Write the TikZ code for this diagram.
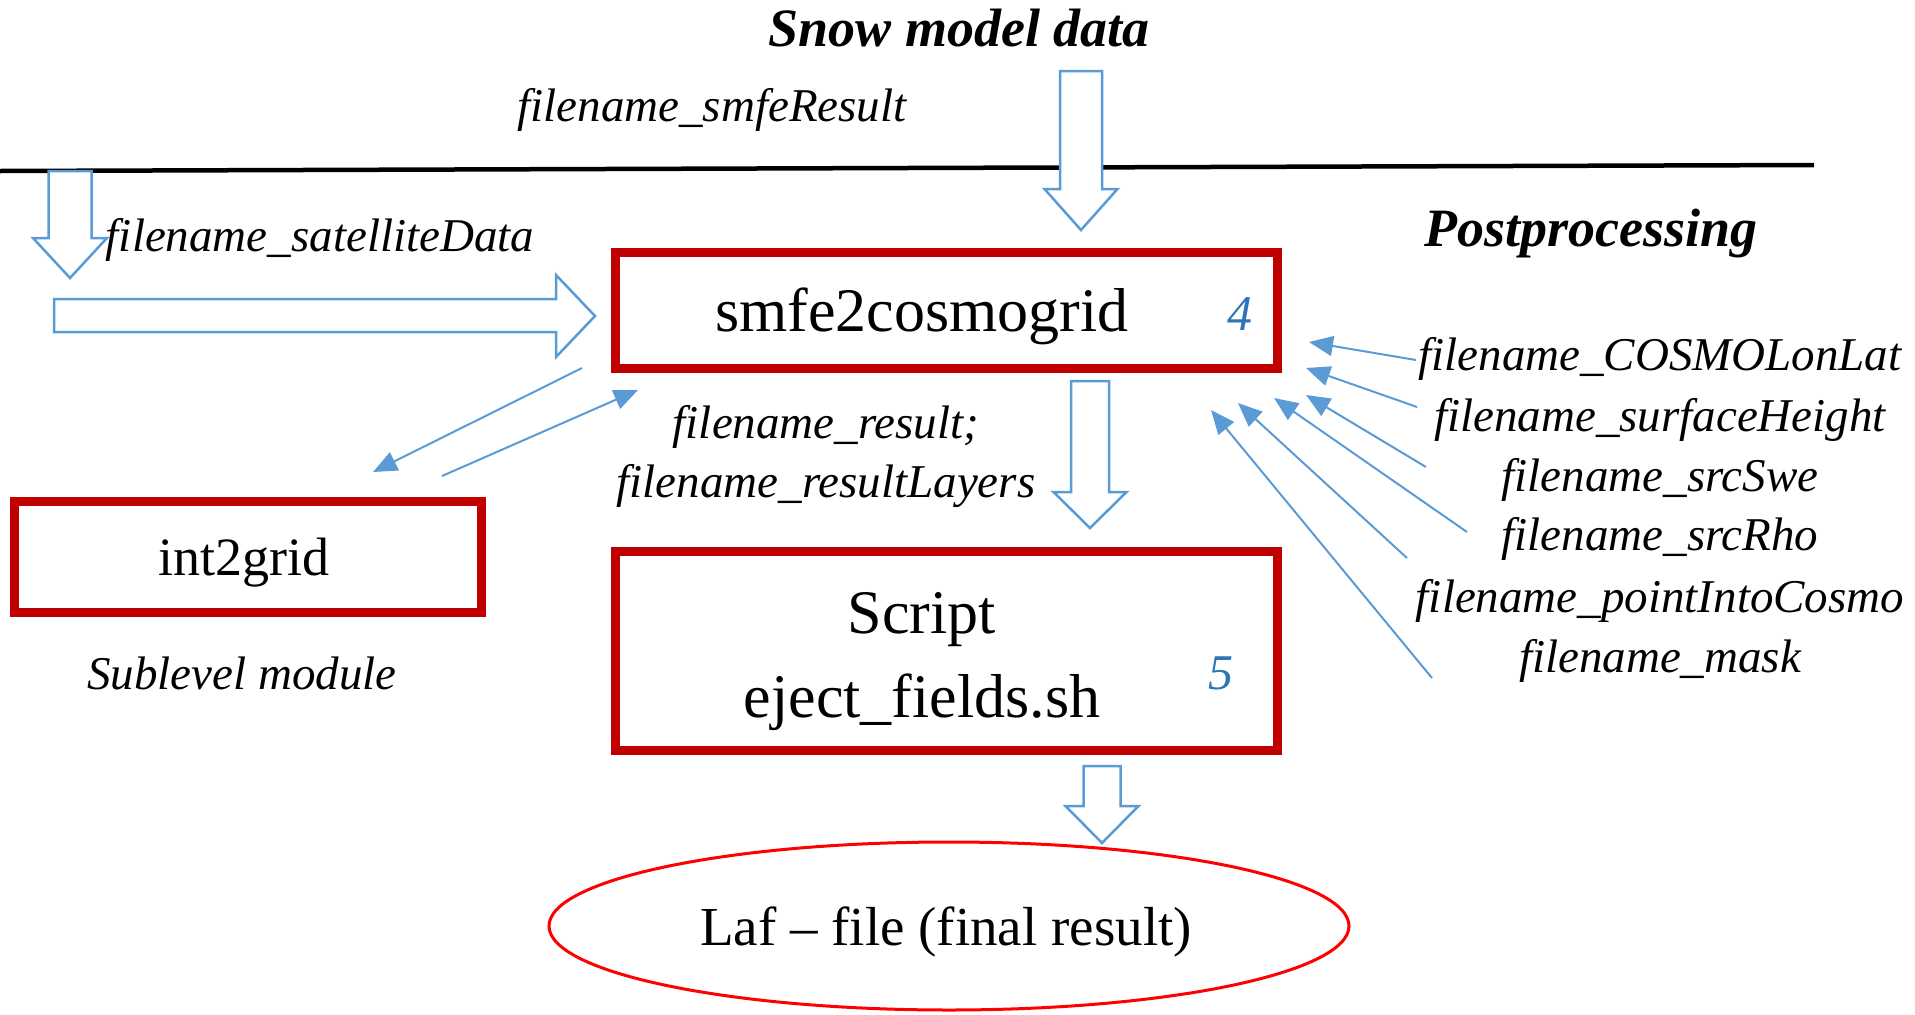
\documentclass[tikz,border=0pt]{standalone}
\usepackage{fontspec}
\setmainfont{Liberation Serif}
\usetikzlibrary{arrows.meta,shapes.geometric}
\definecolor{arblue}{HTML}{5B9BD5}
\definecolor{numblue}{HTML}{2E75B6}
\definecolor{boxred}{HTML}{C00000}
\definecolor{ellred}{HTML}{FF0000}
\newcommand\hdown[6]{% cx, top, shaft width, head base, head width, tip
  \draw[hollow] ({#1-#3/2},#2) -- ({#1+#3/2},#2) -- ({#1+#3/2},#4) -- ({#1+#5/2},#4)
    -- (#1,#6) -- ({#1-#5/2},#4) -- ({#1-#3/2},#4) -- cycle;}
\begin{document}
\begin{tikzpicture}[x=1pt,y=-1pt,
  hollow/.style={draw=arblue,line width=2.5pt,fill=white,line join=miter},
  thin/.style={draw=arblue,line width=2pt,-{Triangle[length=24pt,width=20pt]}},
  redbox/.style={draw=boxred,line width=9pt,inner sep=0pt},
  lab/.style={inner sep=0pt,font=\fontsize{47}{56}\selectfont\itshape},
  title/.style={inner sep=0pt,font=\fontsize{54}{62}\selectfont\bfseries\itshape},
  boxtxt/.style={inner sep=0pt,font=\fontsize{62}{70}\selectfont},
  num/.style={inner sep=0pt,text=numblue,font=\fontsize{50}{58}\selectfont\itshape}]
\useasboundingbox (0,0) rectangle (1915,1015);
% separator line
\coordinate (lineL) at (0,171);
\coordinate (lineR) at (1814,165);
\draw[line width=4.5pt] (lineL) -- (lineR);
% titles
\node[title] (snow) at (959,28) {Snow model data};
\node[title] (post) at (1591,234) {Postprocessing};
% boxes
\draw[redbox] (615.5,252.5) rectangle (1277.5,368.5);
\node[boxtxt] (smfe) at (922,316) {smfe2cosmogrid};
\node[num] (n4) at (1240,314) {4};
\draw[redbox] (14.5,501.5) rectangle (481.5,612.5);
\node[boxtxt,font=\fontsize{54}{62}\selectfont] (int) at (244,563) {int2grid};
\node[lab] (sub) at (242,673) {Sublevel module};
\draw[redbox] (615.5,551.5) rectangle (1277.5,750.5);
\node[boxtxt] (script) at (922,620) {Script};
\node[boxtxt] (eject) at (922,702) {eject\_fields.sh};
\node[num] (n5) at (1221,673) {5};
% ellipse
\node[draw=ellred,line width=3pt,ellipse,minimum width=800pt,minimum height=168pt,inner sep=0pt] (laf) at (949,926) {};
\node[inner sep=0pt,font=\fontsize{55}{64}\selectfont] (laftxt) at (946,932) {Laf -- file (final result)};
% labels
\node[lab] (smferes) at (712,110) {filename\_smfeResult};
\node[lab] (sat) at (320,240) {filename\_satelliteData};
\node[lab] (res1) at (826,427) {filename\_result;};
\node[lab] (res2) at (826,486) {filename\_resultLayers};
\node[lab] (r1) at (1660,359) {filename\_COSMOLonLat};
\node[lab] (r2) at (1660,420) {filename\_surfaceHeight};
\node[lab] (r3) at (1660,480) {filename\_srcSwe};
\node[lab] (r4) at (1660,539) {filename\_srcRho};
\node[lab] (r5) at (1660,601) {filename\_pointIntoCosmo};
\node[lab] (r6) at (1660,661) {filename\_mask};
% hollow block arrows
\hdown{1081}{71}{42}{189}{73}{230}
\hdown{70}{171}{43}{238}{74}{278}
\hdown{1090}{381}{38}{492}{73}{528}
\hdown{1102}{766}{37}{806}{73}{843}
\draw[hollow] (54,299) -- (556,299) -- (556,275) -- (595,316) -- (556,357) -- (556,332) -- (54,332) -- cycle;
% thin arrows int2grid <-> smfe
\coordinate (a1s) at (582,368); \coordinate (a1e) at (373,472);
\coordinate (a2s) at (442,476); \coordinate (a2e) at (638,390);
\draw[thin] (a1s) -- (a1e);
\draw[thin] (a2s) -- (a2e);
% thin arrows from right labels
\coordinate (s1) at (1416,360); \coordinate (e1) at (1309,342);
\coordinate (s2) at (1417,407); \coordinate (e2) at (1306,368);
\coordinate (s3) at (1426,467); \coordinate (e3) at (1306,395);
\coordinate (s4) at (1467,532); \coordinate (e4) at (1274,398);
\coordinate (s5) at (1407,558); \coordinate (e5) at (1238,403);
\coordinate (s6) at (1432,678); \coordinate (e6) at (1211,410);
\foreach \i in {1,...,6} {\draw[thin] (s\i) -- (e\i);}
\end{tikzpicture}
\end{document}
